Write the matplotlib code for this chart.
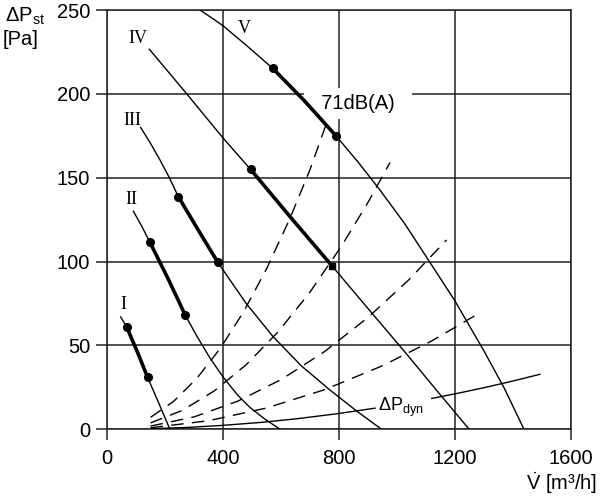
import matplotlib
matplotlib.use("Agg")
import matplotlib.pyplot as plt
import numpy as np

plt.rcParams["font.family"] = ["Liberation Sans", "DejaVu Sans"]
plt.rcParams["mathtext.fontset"] = "custom"
plt.rcParams["mathtext.rm"] = "Liberation Sans"
plt.rcParams["mathtext.it"] = "Liberation Sans:italic"
plt.rcParams["mathtext.bf"] = "Liberation Sans:bold"

# fan curves (flow m3/h, static pressure Pa)
curve_names = ["I", "II", "III", "IV", "V"]
curve_x = [
    [47, 68, 105, 140, 180, 217],
    [91, 120, 148, 210, 270, 310, 355, 401, 450, 493, 545, 597],
    [116, 150, 183, 215, 246, 314, 382, 480, 573, 669, 769, 860, 947],
    [146, 275, 401, 495, 635, 775, 905, 1033, 1140, 1249],
    [321, 372, 401, 480, 571, 680, 790, 865, 941, 1025, 1108, 1200, 1298, 1370, 1438],
]
curve_y = [
    [67, 61, 46, 31, 15, 0],
    [130, 121, 111.5, 90, 68, 55.5, 42.5, 31, 20.5, 13, 6, 0],
    [180, 170.5, 160.5, 150, 138.7, 119, 99.6, 75, 55.2, 38, 23.4, 11, 0],
    [226.6, 200, 173.5, 155, 126, 97.6, 71, 44.9, 22.5, 0],
    [250, 244, 240.5, 229, 215.3, 196, 174.9, 159.5, 142.7, 123, 101, 76.5, 47.3, 24.5, 0],
]

# operating range end points (thick part)
op_x = [[68, 140], [148, 270], [246, 382], [495, 775], [571, 790]]
op_y = [[61, 31], [111.5, 68], [138.7, 99.6], [155, 97.6], [215.3, 174.9]]

# label positions of the roman numerals
name_x = [56, 85, 89, 108, 472]
name_y = [74.5, 137.3, 184.4, 233, 239]

# system curves (dashed)
system_x = [
    [150, 230, 310, 390, 470, 550, 630, 700, 760],
    [150, 260, 370, 480, 590, 700, 810, 900, 976],
    [150, 300, 450, 600, 750, 900, 1040, 1171],
    [150, 350, 550, 750, 950, 1120, 1290],
]
system_y = [
    [7.1, 16.7, 30.4, 48.1, 69.8, 95.6, 125.4, 154.8, 184],
    [3.8, 11.3, 22.9, 38.5, 58.1, 81.8, 109.6, 135.3, 159.1],
    [1.9, 7.4, 16.7, 29.6, 46.3, 66.7, 89, 112.9],
    [0.9, 5.1, 12.7, 23.6, 37.9, 52.7, 69.9],
]

# dynamic pressure, split around its label
dyn_x_left = [155, 280, 400, 530, 650, 790, 924]
dyn_y_left = [0.35, 1.15, 2.35, 4.1, 6.2, 9.2, 12.6]
dyn_x_right = [1120, 1210, 1300, 1400, 1493]
dyn_y_right = [18.4, 21.5, 24.8, 28.8, 32.8]

x_ticks = [0, 400, 800, 1200, 1600]
y_ticks = [0, 50, 100, 150, 200, 250]

fig = plt.figure(figsize=(6, 5), dpi=100)
ax = fig.add_axes([107 / 600, 1 - 429.3 / 500, 464 / 600, 419.3 / 500])
ax.set_xlim(0, 1600)
ax.set_ylim(0, 250)
ax.set_xticks(x_ticks)
ax.set_yticks(y_ticks)
ax.set_axisbelow(True)
ax.grid(True, color="#222222", linewidth=1.1)
for spine in ax.spines.values():
    spine.set_color("#222222")
    spine.set_linewidth(1.1)
ax.tick_params(direction="out", length=8, width=1.1, color="#222222",
               labelsize=14.5, top=False, right=False)
ax.tick_params(axis="y", pad=4)
ax.tick_params(axis="x", pad=6)

for xs, ys in zip(system_x, system_y):
    ax.plot(xs, ys, color="black", linewidth=1.0, linestyle=(0, (9, 6)), zorder=3)

ax.plot(dyn_x_left, dyn_y_left, color="black", linewidth=1.0, zorder=3)
ax.plot(dyn_x_right, dyn_y_right, color="black", linewidth=1.0, zorder=3)
ax.text(1014, 13.3, r"$\Delta\mathrm{P}_{\mathrm{dyn}}$", fontsize=13,
        ha="center", va="center", zorder=3)

for i, name in enumerate(curve_names):
    xs = np.array(curve_x[i])
    ys = np.array(curve_y[i])
    ax.plot(xs, ys, color="black", linewidth=1.0, zorder=3)
    lo, hi = op_x[i]
    inside = (xs >= lo) & (xs <= hi)
    ax.plot(xs[inside], ys[inside], color="black", linewidth=2.6,
            solid_capstyle="round", zorder=4)
    ax.plot(op_x[i][0], op_y[i][0], "o", color="black", markersize=5.5, zorder=5)
    end_marker = "s" if name == "IV" else "o"
    ax.plot(op_x[i][1], op_y[i][1], end_marker, color="black",
            markersize=5.5 if end_marker == "o" else 5, zorder=5)
    ax.text(name_x[i], name_y[i], name, family="Liberation Serif", fontsize=13,
            ha="center", va="center", zorder=3)

ax.text(864, 191, "  71dB(A)  ", fontsize=14.5, ha="center", va="baseline",
        zorder=1.5,
        bbox=dict(boxstyle="square,pad=0.3", facecolor="white", edgecolor="none"))

fig.text(5 / 600, 1 - 22 / 500, r"$\Delta\mathrm{P}_{\mathrm{st}}$", fontsize=14.5,
         va="baseline", ha="left")
fig.text(3 / 600, 1 - 45 / 500, "[Pa]", fontsize=14.5, va="baseline", ha="left")
fig.text(597 / 600, 1 - 490 / 500, r"$\dot{\mathrm{V}}$ [m³/h]", fontsize=14.5,
         va="baseline", ha="right")

fig.savefig("out.png", dpi=100)
